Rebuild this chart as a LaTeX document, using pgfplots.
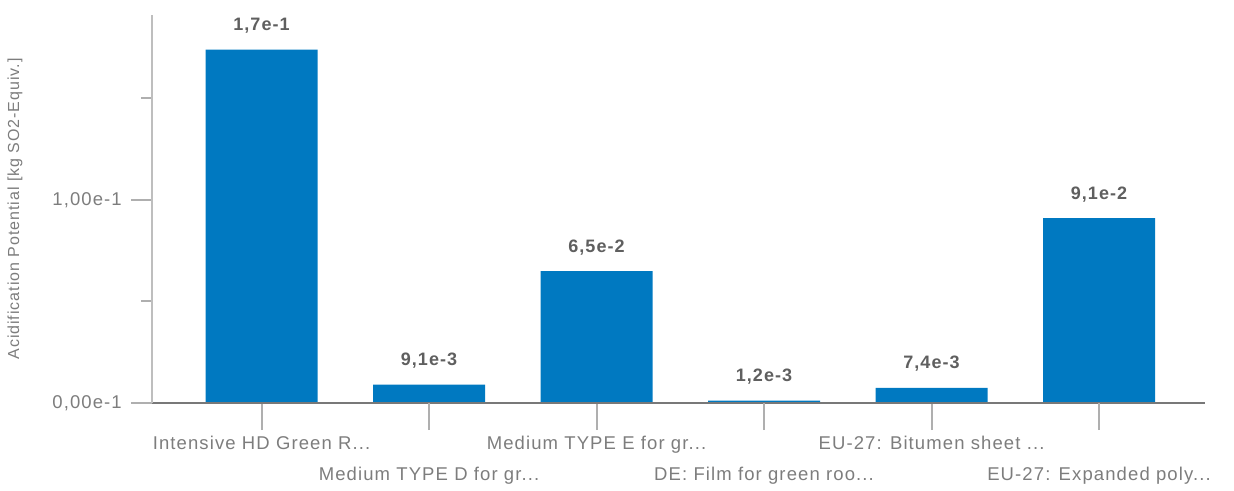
\documentclass[border=0pt]{standalone}
\usepackage{pgfplots}
\pgfplotsset{compat=1.18}
\usepackage{pgfplotstable}
\usepackage{fontspec}
\setmainfont[LetterSpace=6]{Liberation Sans}
\definecolor{barblue}{RGB}{0,121,193}
\definecolor{lab}{RGB}{125,125,125}
\definecolor{val}{RGB}{95,95,95}
\definecolor{yax}{RGB}{190,190,190}
\definecolor{xax}{RGB}{120,120,120}
\definecolor{tk}{RGB}{175,175,175}
\newcommand{\dd}{.{}.{}.}
\pgfplotstableread{
x y lab
0 0.1740 {1,7e-1}
1 0.0091 {9,1e-3}
2 0.0650 {6,5e-2}
3 0.0012 {1,2e-3}
4 0.0074 {7,4e-3}
5 0.0910 {9,1e-2}
}\datatable
\begin{document}
\begin{tikzpicture}
\path[use as bounding box] (-152bp,-88bp) rectangle (1082bp,403bp);
\begin{axis}[
  at={(0,0)}, anchor=south west,
  scale only axis, width=1053bp, height=388bp,
  xmin=-0.654, xmax=5.633, ymin=0, ymax=0.1911,
  axis x line=bottom, axis y line=left,
  axis line style={-},
  x axis line style={draw=xax, line width=2.5bp},
  y axis line style={draw=yax, line width=2.5bp},
  tick align=outside,
  major tick length=27bp,
  minor tick length=11bp,
  xtick style={draw=tk, line width=2bp},
  ytick style={draw=tk, line width=2bp, /pgfplots/major tick length=21bp},
  minor tick style={draw=tk, line width=2bp},
  xtick={0,2,4},
  xticklabels={{Intensive HD Green R\dd},{Medium TYPE E for gr\dd},{EU-27: Bitumen sheet \dd}},
  extra x ticks={1,3,5},
  extra x tick labels={{Medium TYPE D for gr\dd},{DE: Film for green roo\dd},{EU-27: Expanded poly\dd}},
  extra x tick style={xticklabel style={yshift=-31bp}},
  xticklabel style={font=\fontsize{18.5bp}{20bp}\selectfont, text=lab, anchor=north, inner sep=2bp, yshift=-4bp},
  ytick={0,0.1},
  yticklabels={{0,00e-1},{1,00e-1}},
  minor ytick={0.05,0.15},
  yticklabel style={font=\fontsize{18.5bp}{20bp}\selectfont, text=lab, inner sep=3bp},
  scaled y ticks=false,
  ylabel={Acidification Potential [kg SO2-Equiv.]},
  every axis y label/.style={at={(axis description cs:-0.1301,0.5)}, rotate=90, anchor=center, font=\fontsize{16bp}{18bp}\selectfont, text=lab},
  ybar, bar width=112bp,
  point meta=explicit symbolic,
  nodes near coords,
  every node near coord/.append style={font=\bfseries\fontsize{18bp}{20bp}\selectfont, text=val, anchor=base, yshift=19bp},
  axis on top,
  clip=false,
]
\addplot[fill=barblue, draw=none] table[x=x, y=y, meta=lab] {\datatable};
\end{axis}
\end{tikzpicture}
\end{document}
